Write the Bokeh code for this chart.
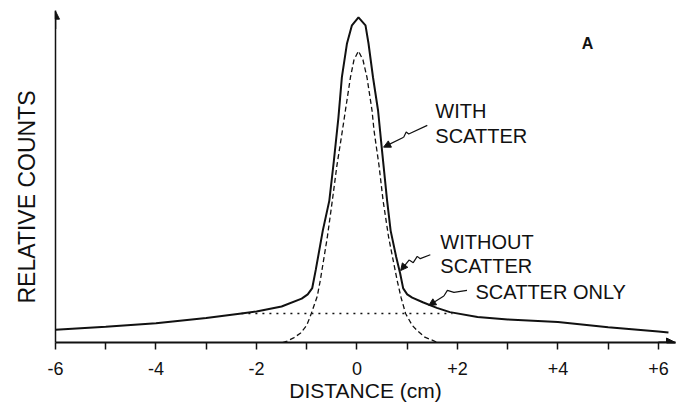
from bokeh.plotting import figure
from bokeh.models import Range1d, FixedTicker, Label, Arrow, NormalHead, Title
from bokeh.embed import file_html
from bokeh.resources import INLINE

# ---------------- data ----------------
with_scatter_x = [-6.0, -5.0, -4.0, -3.0, -2.3, -2.0, -1.5, -1.1, -0.98, -0.89, -0.82, -0.68,
                  -0.55, -0.46, -0.37, -0.30, -0.20, -0.10, 0.03, 0.17, 0.23, 0.32, 0.42, 0.50,
                  0.60, 0.67, 0.78, 0.86, 0.92, 1.0, 1.1, 1.31, 1.59, 1.85, 2.4, 3.0, 4.0, 5.0,
                  6.0, 6.2]
with_scatter_y = [3.9, 4.8, 5.8, 7.4, 8.8, 9.4, 10.9, 13.3, 14.6, 16.5, 22.0, 33.9,
                  43.0, 55.0, 68.0, 80.4, 90.5, 96.1, 98.5, 96.1, 90.6, 80.3, 70.3, 58.0,
                  43.0, 33.9, 26.0, 20.9, 16.4, 14.6, 13.6, 12.2, 10.5, 9.2, 7.7, 7.0, 6.2, 4.6,
                  3.3, 3.0]

without_scatter_x = [-1.48, -1.39, -1.25, -1.12, -1.0, -0.92, -0.79, -0.73, -0.59, -0.49, -0.40,
                     -0.29, -0.23, -0.13, -0.06, 0.03, 0.12, 0.20, 0.30, 0.34, 0.44, 0.52, 0.63,
                     0.80, 0.88, 0.97, 1.1, 1.2, 1.35, 1.53, 1.6]
without_scatter_y = [0.0, 0.4, 1.5, 2.9, 5.2, 8.3, 14.0, 18.8, 31.9, 43.0, 53.5,
                     64.2, 70.3, 80.3, 85.6, 88.3, 85.6, 80.3, 70.3, 64.2, 53.5, 43.0, 31.9,
                     18.8, 13.5, 8.7, 5.2, 3.6, 1.6, 0.5, 0.0]

scatter_only_x = [-2.3, 1.9]
scatter_only_y = [8.8, 8.8]

tick_values = [-6, -5, -4, -3, -2, -1, 0, 1, 2, 3, 4, 5, 6]
tick_labels = {-6: "-6", -4: "-4", -2: "-2", 0: "0", 2: "+2", 4: "+4", 6: "+6"}

x_title = "DISTANCE (cm)"
y_title = "RELATIVE COUNTS"
panel_tag = "A"
curve_labels = {
    "with": ["WITH", "SCATTER"],
    "without": ["WITHOUT", "SCATTER"],
    "only": ["SCATTER ONLY"],
}

# ---------------- figure ----------------
FONT = "Liberation Sans"
INK = "#111111"

p = figure(width=677, height=405, output_backend="svg", toolbar_location=None,
           x_range=Range1d(-6.0, 6.34), y_range=Range1d(0.0, 100.6),
           min_border_left=55, min_border_right=2, min_border_top=10, min_border_bottom=63)
p.outline_line_color = None
p.xgrid.visible = False
p.ygrid.visible = False
p.background_fill_color = "white"

# x axis
xa = p.xaxis[0]
xa.ticker = FixedTicker(ticks=tick_values)
xa.major_label_overrides = {t: tick_labels.get(t, "") for t in tick_values}
xa.major_label_text_font = FONT
xa.major_label_text_font_size = "18px"
xa.major_label_text_color = INK
xa.major_label_standoff = 12
xa.major_tick_out = 7
xa.major_tick_in = 0
xa.major_tick_line_width = 1.5
xa.major_tick_line_color = INK
xa.minor_tick_line_color = None
xa.axis_line_width = 2
xa.axis_line_color = INK
xa.axis_label = x_title
xa.axis_label_text_font = FONT
xa.axis_label_text_font_size = "21px"
xa.axis_label_text_font_style = "normal"
xa.axis_label_text_color = INK
xa.axis_label_standoff = 1

# y axis (no ticks)
ya = p.yaxis[0]
ya.ticker = FixedTicker(ticks=[])
ya.major_label_text_font_size = "0px"
ya.major_tick_line_color = None
ya.minor_tick_line_color = None
ya.axis_line_width = 1.5
ya.axis_line_color = INK

# y title as a side title (rotated, in the left panel)
p.add_layout(Title(text=y_title, align="left", offset=39, standoff=27, vertical_align="top",
                   text_font=FONT, text_font_size="23px", text_font_style="normal",
                   text_color=INK), "left")

# axis arrows
p.add_layout(Arrow(x_start=6.0, y_start=0, x_end=6.34, y_end=0, line_color=INK, line_width=2,
                   end=NormalHead(size=9, fill_color=INK, line_color=INK)))
p.add_layout(Arrow(x_start=-6.0, y_start=95, x_end=-6.0, y_end=100.4, line_color=INK, line_width=1.5,
                   end=NormalHead(size=8, fill_color=INK, line_color=INK)))

# curves
p.line(scatter_only_x, scatter_only_y, line_color=INK, line_width=1.6, line_dash="2 5")
p.line(without_scatter_x, without_scatter_y, line_color=INK, line_width=1.3, line_dash="5 3")
p.line(with_scatter_x, with_scatter_y, line_color=INK, line_width=2.0)

# panel tag
p.add_layout(Label(x=4.59, y=90.6, text=panel_tag, text_align="center", text_baseline="middle",
                   text_font=FONT, text_font_size="16px", text_font_style="bold", text_color=INK))

# curve annotations
def add_text(x, y, lines, dy):
    for i, t in enumerate(lines):
        p.add_layout(Label(x=x, y=y - i * dy, text=t, text_align="left", text_baseline="alphabetic",
                           text_font=FONT, text_font_size="20px", text_color=INK))

add_text(1.56, 70.0, curve_labels["with"], 7.3)
add_text(1.66, 30.6, curve_labels["without"], 7.3)
add_text(2.36, 15.4, curve_labels["only"], 7.3)

# squiggly leaders with arrow heads
leaders = [
    ([1.40, 1.03, 0.98, 0.93], [65.8, 63.2, 63.8, 62.2], (0.53, 59.2)),
    ([1.46, 1.26, 1.20, 1.12, 1.04], [26.6, 25.4, 26.1, 24.2, 25.0], (0.87, 21.8)),
    ([2.19, 1.93, 1.80, 1.73], [15.8, 15.2, 15.8, 14.1], (1.43, 11.2)),
]
for lx, ly, tip in leaders:
    p.line(lx, ly, line_color=INK, line_width=1.2)
    p.add_layout(Arrow(x_start=lx[-1], y_start=ly[-1], x_end=tip[0], y_end=tip[1],
                       line_color=INK, line_width=1.2,
                       end=NormalHead(size=7, fill_color=INK, line_color=INK)))

open("out.html", "w").write(file_html(p, INLINE))
